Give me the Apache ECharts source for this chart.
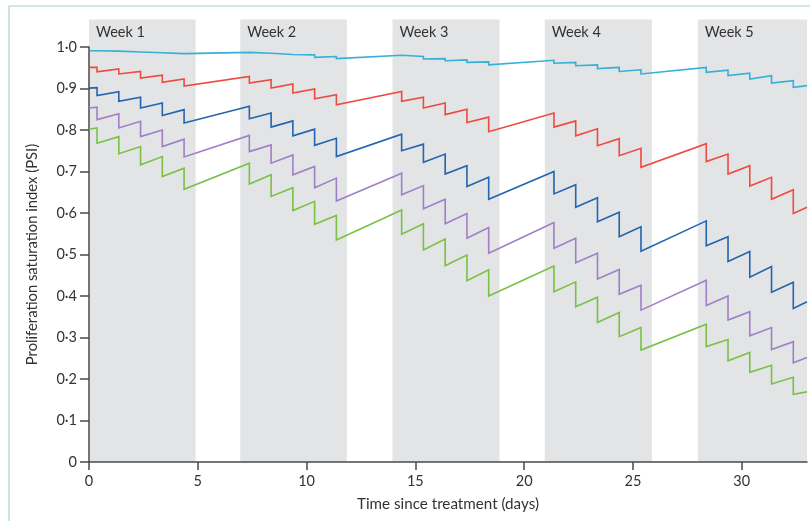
<!DOCTYPE html>
<html>
<head>
<meta charset="utf-8">
<script src="https://cdn.jsdelivr.net/npm/echarts@6/dist/echarts.min.js"></script>
<style>
html,body{margin:0;padding:0;background:#fff;overflow:hidden;}
#chart{width:810px;height:521px;}
</style>
</head>
<body>
<div id="chart"></div>
<script>
// ---- data ----
const weekLabels = ['Week 1', 'Week 2', 'Week 3', 'Week 4', 'Week 5'];
const weekStart = [0, 6.95, 13.95, 20.95, 27.98];
const weekEnd = [4.9, 11.85, 18.87, 25.87, 33];
const bandTop = 1.066;

const treatDays = [0.37, 1.37, 2.37, 3.37, 4.37, 7.37, 8.37, 9.37, 10.37, 11.37,
  14.37, 15.37, 16.37, 17.37, 18.37, 21.37, 22.37, 23.37, 24.37, 25.37,
  28.37, 29.37, 30.37, 31.37, 32.37];
const xEnd = 33;

const cyanStart = 0.991, cyanEnd = 0.907;
const cyanBefore = [0.991, 0.990, 0.988, 0.986, 0.984, 0.987, 0.985, 0.982, 0.981, 0.977,
  0.980, 0.977, 0.972, 0.969, 0.964, 0.968, 0.963, 0.957, 0.951, 0.945,
  0.951, 0.944, 0.937, 0.931, 0.919];
const cyanAfter = [0.990, 0.988, 0.986, 0.984, 0.981, 0.984, 0.981, 0.978, 0.975, 0.972,
  0.976, 0.971, 0.967, 0.963, 0.957, 0.961, 0.955, 0.948, 0.941, 0.935,
  0.939, 0.931, 0.923, 0.913, 0.903];

const redStart = 0.951, redEnd = 0.614;
const redBefore = [0.951, 0.947, 0.941, 0.932, 0.923, 0.929, 0.921, 0.911, 0.899, 0.885,
  0.893, 0.879, 0.865, 0.850, 0.831, 0.841, 0.822, 0.803, 0.779, 0.756,
  0.767, 0.742, 0.714, 0.686, 0.656];
const redAfter = [0.940, 0.935, 0.925, 0.915, 0.906, 0.913, 0.901, 0.889, 0.875, 0.861,
  0.869, 0.853, 0.837, 0.818, 0.796, 0.807, 0.786, 0.762, 0.738, 0.710,
  0.724, 0.694, 0.665, 0.633, 0.599];

const blueStart = 0.901, blueEnd = 0.386;
const blueBefore = [0.902, 0.892, 0.879, 0.865, 0.849, 0.857, 0.841, 0.822, 0.802, 0.780,
  0.790, 0.766, 0.742, 0.714, 0.686, 0.700, 0.668, 0.637, 0.602, 0.567,
  0.581, 0.543, 0.507, 0.471, 0.433];
const blueAfter = [0.883, 0.869, 0.853, 0.835, 0.817, 0.827, 0.807, 0.786, 0.763, 0.736,
  0.750, 0.722, 0.694, 0.664, 0.633, 0.646, 0.614, 0.579, 0.543, 0.508,
  0.521, 0.483, 0.445, 0.409, 0.370];

const purpleStart = 0.853, purpleEnd = 0.252;
const purpleBefore = [0.855, 0.839, 0.821, 0.800, 0.778, 0.787, 0.764, 0.740, 0.712, 0.684,
  0.696, 0.666, 0.633, 0.599, 0.565, 0.577, 0.539, 0.503, 0.464, 0.426,
  0.438, 0.400, 0.362, 0.324, 0.290];
const purpleAfter = [0.825, 0.805, 0.784, 0.760, 0.735, 0.748, 0.720, 0.692, 0.661, 0.629,
  0.644, 0.610, 0.574, 0.539, 0.503, 0.515, 0.480, 0.441, 0.404, 0.366,
  0.377, 0.342, 0.304, 0.271, 0.239];

const greenStart = 0.802, greenEnd = 0.169;
const greenBefore = [0.805, 0.784, 0.760, 0.736, 0.708, 0.720, 0.692, 0.661, 0.628, 0.594,
  0.607, 0.574, 0.537, 0.499, 0.463, 0.472, 0.434, 0.397, 0.360, 0.324,
  0.332, 0.295, 0.264, 0.233, 0.204];
const greenAfter = [0.768, 0.743, 0.716, 0.688, 0.657, 0.670, 0.640, 0.606, 0.573, 0.535,
  0.549, 0.511, 0.473, 0.437, 0.400, 0.410, 0.374, 0.336, 0.302, 0.270,
  0.278, 0.244, 0.216, 0.188, 0.163];

// ---- build ----
function buildLine(start, before, after, end) {
  const pts = [[0, start]];
  treatDays.forEach((t, i) => { pts.push([t, before[i]]); pts.push([t, after[i]]); });
  pts.push([xEnd, end]);
  return pts;
}

const FONT = 'Lato';
const TXT = '#333333';
const AX = '#4a4a4a';

const lines = [
  { name: 'cyan', color: '#35b0d6', d: buildLine(cyanStart, cyanBefore, cyanAfter, cyanEnd) },
  { name: 'red', color: '#ef4a3f', d: buildLine(redStart, redBefore, redAfter, redEnd) },
  { name: 'blue', color: '#2265b0', d: buildLine(blueStart, blueBefore, blueAfter, blueEnd) },
  { name: 'purple', color: '#a07fc6', d: buildLine(purpleStart, purpleBefore, purpleAfter, purpleEnd) },
  { name: 'green', color: '#79c143', d: buildLine(greenStart, greenBefore, greenAfter, greenEnd) }
];

const bandData = weekLabels.map((l, i) => [weekStart[i], weekEnd[i], l]);

const chart = echarts.init(document.getElementById('chart'), null, { renderer: 'canvas', width: 810, height: 521 });
chart.setOption({
  animation: false,
  backgroundColor: '#fff',
  graphic: [{
    type: 'polyline', shape: { points: [[9, 600], [9, 6], [900, 6]] },
    style: { fill: 'none', stroke: '#a6d6bd', lineWidth: 1.2 }, silent: true, z: -10
  }],
  grid: { left: 89, right: 3, top: 47, bottom: 59, containLabel: false },
  xAxis: {
    type: 'value', min: 0, max: 33, interval: 5,
    name: 'Time since treatment (days)', nameLocation: 'middle', nameGap: 35,
    nameTextStyle: { fontFamily: FONT, fontSize: 15.2, color: TXT },
    axisLine: { show: true, lineStyle: { color: AX, width: 1.5 } },
    axisTick: { show: true, length: 8, lineStyle: { color: AX, width: 1.5 } },
    axisLabel: { margin: 12, fontFamily: FONT, fontSize: 14.5, color: TXT, showMaxLabel: false },
    splitLine: { show: false }
  },
  yAxis: {
    type: 'value', min: 0, max: 1, interval: 0.1,
    name: 'Proliferation saturation index (PSI)', nameLocation: 'middle', nameGap: 49,
    nameTextStyle: { fontFamily: FONT, fontSize: 14.8, color: TXT },
    axisLine: { show: true, lineStyle: { color: AX, width: 1.5 } },
    axisTick: { show: true, length: 9, lineStyle: { color: AX, width: 1.5 } },
    axisLabel: {
      margin: 12, fontFamily: FONT, fontSize: 14.5, color: TXT,
      formatter: v => v === 0 ? '0' : v.toFixed(1).replace('.', '\u00b7')
    },
    splitLine: { show: false }
  },
  series: [{
    type: 'custom', clip: false, silent: true, z: 0,
    data: bandData,
    encode: { x: [0, 1] },
    renderItem: function (params, api) {
      const p0 = api.coord([api.value(0), 0]);
      const p1 = api.coord([api.value(1), bandTop]);
      return {
        type: 'group',
        children: [{
          type: 'rect',
          shape: { x: p0[0], y: p1[1], width: p1[0] - p0[0], height: p0[1] - p1[1] },
          style: { fill: '#e3e4e6' }
        }, {
          type: 'text',
          x: p0[0] + 7, y: p1[1] + 13,
          style: {
            text: weekLabels[params.dataIndex], fontFamily: FONT, fontSize: 14.5,
            fill: TXT, verticalAlign: 'middle', align: 'left'
          }
        }]
      };
    }
  }].concat(lines.map(l => ({
    type: 'line', name: l.name, data: l.d, showSymbol: false, symbol: 'none',
    z: 3, clip: false,
    lineStyle: { color: l.color, width: 1.6, join: 'miter' }
  })))
});
</script>
</body>
</html>
